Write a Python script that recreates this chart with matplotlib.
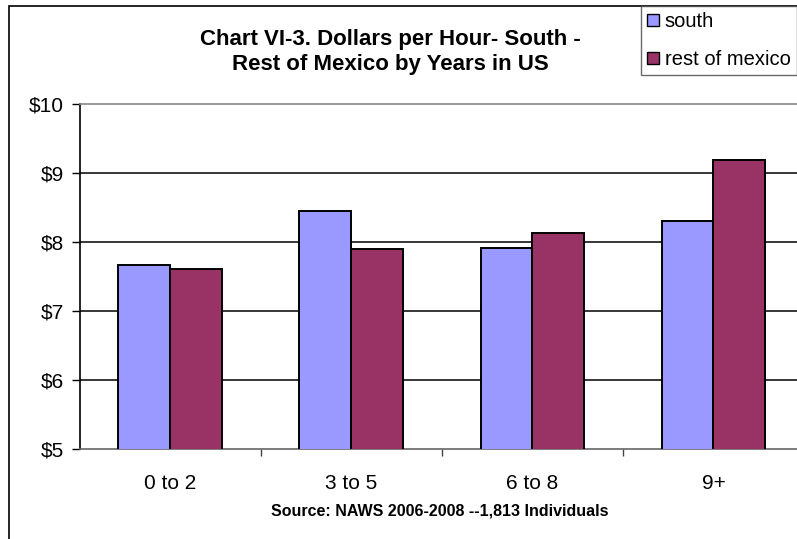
import matplotlib
matplotlib.use('agg')
import matplotlib.pyplot as plt
import numpy as np
from matplotlib.patches import Patch, Rectangle

# datos
categorias = ['0 to 2', '3 to 5', '6 to 8', '9+']
south = [7.67, 8.45, 7.92, 8.31]
rest_of_mexico = [7.61, 7.90, 8.13, 9.19]
series = ['south', 'rest of mexico']
y_ticks = [5, 6, 7, 8, 9, 10]
y_labels = ['$5', '$6', '$7', '$8', '$9', '$10']

col_south = '#9999FF'
col_rest = '#993366'

plt.rcParams['font.family'] = ['Liberation Sans', 'DejaVu Sans']

W, H = 797, 539
fig = plt.figure(figsize=(W / 100, H / 100), dpi=100)

# borde exterior del grafico (Excel)
fig.patches.append(Rectangle((9 / W, -0.1), 1.2, 1.1 - 6 / H, transform=fig.transFigure,
                             fill=False, edgecolor='black', linewidth=1.2))

izq, der, abajo, arriba = 79.5, 804, 449, 104
ax = fig.add_axes([izq / W, 1 - abajo / H, (der - izq) / W, (abajo - arriba) / H])

x = np.arange(len(categorias))
ancho = 1 / 3.5
ax.bar(x - ancho / 2, south, ancho, color=col_south, edgecolor='black', linewidth=1.4, zorder=3)
ax.bar(x + ancho / 2, rest_of_mexico, ancho, color=col_rest, edgecolor='black', linewidth=1.4, zorder=3)

ax.set_ylim(5, 10)
ax.set_xlim(-0.5, len(categorias) - 0.5)
ax.set_yticks(y_ticks)
ax.set_yticklabels(y_labels, fontsize=15)
ax.set_xticks(x)
ax.set_xticklabels(categorias, fontsize=15)
ax.tick_params(axis='x', length=0, pad=18)
ax.set_xticks(np.arange(len(categorias)) + 0.5, minor=True)
ax.tick_params(axis='x', which='minor', length=5, width=1, direction='out', color='#444444')
ax.tick_params(axis='y', length=6, width=1, direction='out', pad=5)

for v in [6, 7, 8, 9]:
    ax.axhline(v, color='black', linewidth=1.1, zorder=1)

ax.spines['left'].set_color('black')
ax.spines['bottom'].set_color('#666666')
ax.spines['top'].set_color('#888888')
ax.spines['right'].set_visible(False)
for s in ax.spines.values():
    s.set_linewidth(1.2)

fig.text(390 / W, 1 - 52 / H, 'Chart VI-3. Dollars per Hour- South -\nRest of Mexico by Years in US',
         ha='center', va='center', fontsize=16, fontweight='bold', linespacing=1.3)

fig.text(440 / W, 1 - 511 / H, 'Source: NAWS 2006-2008 --1,813 Individuals',
         ha='center', va='center', fontsize=11.5, fontweight='bold')

handles = [Patch(facecolor=col_south, edgecolor='black'), Patch(facecolor=col_rest, edgecolor='black')]
leg = fig.legend(handles, series, loc='upper left', bbox_to_anchor=(640.7 / W, 1 - 6 / H),
                 fontsize=14.5, frameon=True, fancybox=False, edgecolor='#444444',
                 handlelength=0.6, handleheight=0.6, handletextpad=0.3, labelspacing=0.95,
                 borderpad=0.3, borderaxespad=0)
leg.get_frame().set_linewidth(1.0)

fig.savefig('out.png', dpi=100)
